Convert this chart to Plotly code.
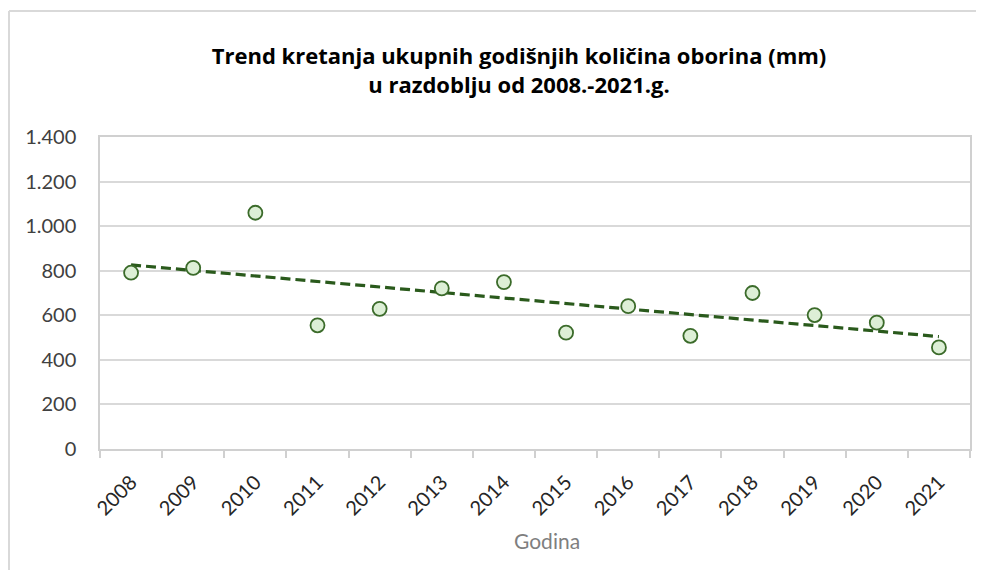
import numpy as np
import plotly.graph_objects as go

years = ["2008", "2009", "2010", "2011", "2012", "2013", "2014",
         "2015", "2016", "2017", "2018", "2019", "2020", "2021"]
precip_mm = [791, 813, 1060, 555, 629, 721, 749, 522, 641, 508, 700, 601, 567, 456]
y_ticks = [0, 200, 400, 600, 800, 1000, 1200, 1400]

idx = np.arange(len(years))
slope, intercept = np.polyfit(idx, precip_mm, 1)
trend = slope * idx + intercept

W, H = 976, 562
L, R, T, B = 92, 962, 129, 441  # plot area in figure px
FONT = "Lato"

def px_x(x):
    return (x - L) / (R - L)

def px_y(y):
    return (B - y) / (B - T)

fig = go.Figure()
fig.add_trace(go.Scatter(
    x=years, y=trend, mode="lines",
    line=dict(color="#2a5a1c", width=3.2, dash="10px,5px"),
    showlegend=False, hoverinfo="skip"))
fig.add_trace(go.Scatter(
    x=years, y=precip_mm, mode="markers",
    marker=dict(size=14, color="#ddefd6", line=dict(color="#3b6b2a", width=1.8)),
    showlegend=False))

fig.update_layout(
    width=W, height=H,
    margin=dict(l=L, r=W - R, t=T, b=H - B),
    paper_bgcolor="white", plot_bgcolor="white",
    separators=",.",
    font=dict(family=FONT, size=20, color="#404040"),
    title=dict(
        text="<b>Trend kretanja ukupnih godišnjih količina oborina (mm)</b><br><b>u razdoblju od 2008.-2021.g.</b>",
        x=511 / W, xanchor="center", y=1 - 56 / H, yanchor="middle",
        font=dict(family="Open Sans", size=22, color="#000000")),
    xaxis=dict(
        type="category", categoryorder="array", categoryarray=years,
        range=[-0.5, 13.5], tickson="boundaries",
        ticks="outside", ticklen=7, tickcolor="#d0d0d0", tickwidth=1.5,
        showline=True, linecolor="#d0d0d0", linewidth=1.5, mirror=True,
        showgrid=False, tickangle=-45, ticklabelstandoff=12,
        tickfont=dict(family=FONT, size=20, color="#262626"),
    ),
    yaxis=dict(
        range=[0, 1400], tickvals=y_ticks, tickformat=",d",
        showgrid=True, gridcolor="#d9d9d9", gridwidth=1.5,
        showline=True, linecolor="#d0d0d0", linewidth=1.5, mirror=True,
        zeroline=False, ticks="", ticklabelstandoff=18,
        tickfont=dict(family=FONT, size=20, color="#404040"),
    ),
)
fig.add_annotation(text="Godina", xref="paper", yref="paper",
                   x=px_x(539), y=px_y(532),
                   xanchor="center", yanchor="middle", showarrow=False,
                   font=dict(family=FONT, size=21, color="#7f7f7f"))
# outer chart border (left and top edges visible in the reference)
fig.add_shape(type="line", xref="paper", yref="paper",
              x0=px_x(1), x1=px_x(1), y0=px_y(600), y1=px_y(3),
              line=dict(color="#d9d9d9", width=2), layer="below")
fig.add_shape(type="line", xref="paper", yref="paper",
              x0=px_x(1), x1=px_x(1000), y0=px_y(3), y1=px_y(3),
              line=dict(color="#d9d9d9", width=2), layer="below")

fig.write_html(
    "out.html",
    post_script="document.documentElement.style.overflow='hidden';document.body.style.overflow='hidden';",
)
